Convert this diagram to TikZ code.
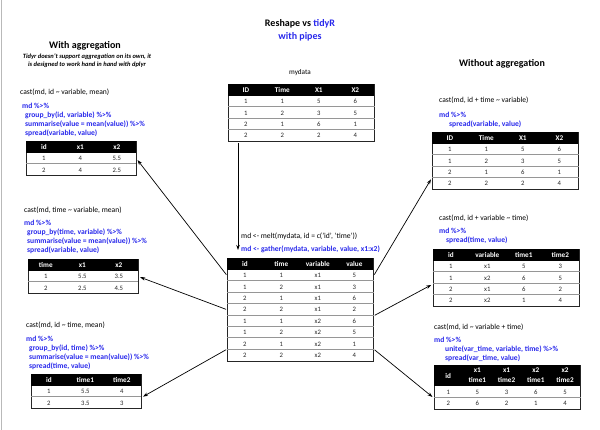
\documentclass[tikz,border=0pt]{standalone}
\usepackage{fontspec}
\setmainfont{Carlito}
\usepackage{tikz}
\usetikzlibrary{matrix,arrows.meta,positioning}

\definecolor{pipeblue}{RGB}{40,40,235}
\definecolor{rulegray}{RGB}{150,150,150}

% grey rules between the body rows of a table
\newcommand{\tablerules}[3]{%
  \foreach \r in {3,...,#2}
    \draw[rowrule] (#1-\r-1.north west) -- (#1-\r-#3.north east);}
% two-line header cell
\newcommand{\twolines}[2]{\begin{tabular}{@{}c@{}}#1\\#2\end{tabular}}

\tikzset{
  datatable/.style={matrix of nodes, draw=black!85, line width=0.8pt, inner sep=0pt,
    anchor=north west,
    nodes={anchor=center, inner sep=0pt, minimum width=#1, minimum height=11.4pt,
      align=center, font=\fontsize{6.7}{7}\selectfont, text=black!85},
    row 1/.style={nodes={fill=black, text=white, font=\fontsize{7.2}{10}\selectfont\bfseries}}},
  datatable/.default=36.5pt,
  rowrule/.style={draw=rulegray, line width=0.9pt},
  code/.style={anchor=north west, inner sep=0pt, align=left, font=\fontsize{7.6}{9.3}\selectfont},
  pipe/.style={code, text=pipeblue, font=\fontsize{7.6}{9.3}\selectfont\bfseries},
  heading/.style={font=\fontsize{10}{13}\selectfont\bfseries},
  link/.style={-{Stealth[length=5pt,width=3.5pt]}, line width=0.7pt, shorten >=2pt, shorten <=1pt},
}

\begin{document}
\begin{tikzpicture}[x=1pt, y=-1pt]

  \useasboundingbox (0,0) rectangle (600,430);
  \draw[gray!55, line width=1.2pt] (1.5,0) -- (1.5,430);

  % Headings
  \node[heading, align=center] (title) at (300,30.5)
    {Reshape vs \textcolor{pipeblue}{tidyR}\\\textcolor{pipeblue}{with pipes}};
  \node[heading] (withagg) at (85,46) {With aggregation};
  \node[font=\fontsize{6.5}{8}\selectfont\bfseries\itshape, align=center] (note) at (87,61)
    {Tidyr doesn't support aggregation on its own, it\\is designed to work hand in hand with dplyr};
  \node[heading] (withoutagg) at (502,64) {Without aggregation};

  % Source data
  \node[font=\fontsize{7.2}{8}\selectfont] (mydatalabel) at (300,73) {mydata};
  \matrix[datatable] (mydata) at (228,84) {
    ID & Time & X1 & X2 \\
    1 & 1 & 5 & 6 \\
    1 & 2 & 3 & 5 \\
    2 & 1 & 6 & 1 \\
    2 & 2 & 2 & 4 \\
  };
  \tablerules{mydata}{5}{4}

  % Molten data
  \node[code] (meltcode) at (241,232.5) {md <- melt(mydata, id = c('id', 'time'))};
  \node[pipe] (gathercode) at (241,245.5) {md <- gather(mydata, variable, value, x1:x2)};
  \matrix[datatable] (md) at (227,258) {
    id & time & variable & value \\
    1 & 1 & x1 & 5 \\
    1 & 2 & x1 & 3 \\
    2 & 1 & x1 & 6 \\
    2 & 2 & x1 & 2 \\
    1 & 1 & x2 & 6 \\
    1 & 2 & x2 & 5 \\
    2 & 1 & x2 & 1 \\
    2 & 2 & x2 & 4 \\
  };
  \tablerules{md}{9}{4}

  % With aggregation
  \node[code] (castidvar) at (20,88.5) {cast(md, id \textasciitilde{} variable, mean)};
  \node[pipe] (pipeidvar) at (22,102.5) {md \%>\%\\
    \hspace*{3pt}group\_by(id, variable) \%>\%\\
    \hspace*{3pt}summarise(value = mean(value)) \%>\%\\
    \hspace*{3pt}spread(variable, value)};
  \matrix[datatable] (idvar) at (26,141) {
    id & x1 & x2 \\
    1 & 4 & 5.5 \\
    2 & 4 & 2.5 \\
  };
  \tablerules{idvar}{3}{3}

  \node[code] (casttimevar) at (24,206.5) {cast(md, time \textasciitilde{} variable, mean)};
  \node[pipe] (pipetimevar) at (24,219.5) {md \%>\%\\
    \hspace*{3pt}group\_by(time, variable) \%>\%\\
    \hspace*{3pt}summarise(value = mean(value)) \%>\%\\
    \hspace*{3pt}spread(variable, value)};
  \matrix[datatable] (timevar) at (28,259) {
    time & x1 & x2 \\
    1 & 5.5 & 3.5 \\
    2 & 2.5 & 4.5 \\
  };
  \tablerules{timevar}{3}{3}

  \node[code] (castidtime) at (26,321.5) {cast(md, id \textasciitilde{} time, mean)};
  \node[pipe] (pipeidtime) at (26,335.5) {md \%>\%\\
    \hspace*{3pt}group\_by(id, time) \%>\%\\
    \hspace*{3pt}summarise(value = mean(value)) \%>\%\\
    \hspace*{3pt}spread(time, value)};
  \matrix[datatable] (idtime) at (31,374) {
    id & time1 & time2 \\
    1 & 5.5 & 4 \\
    2 & 3.5 & 3 \\
  };
  \tablerules{idtime}{3}{3}

  % Without aggregation
  \node[code] (castidtimevar) at (439,96.5) {cast(md, id + time \textasciitilde{} variable)};
  \node[pipe] (pipeidtimevar) at (439,111.5) {md \%>\%\\
    \hspace*{10pt}spread(variable, value)};
  \matrix[datatable] (idtimevar) at (432,132) {
    ID & Time & X1 & X2 \\
    1 & 1 & 5 & 6 \\
    1 & 2 & 3 & 5 \\
    2 & 1 & 6 & 1 \\
    2 & 2 & 2 & 4 \\
  };
  \tablerules{idtimevar}{5}{4}

  \node[code] (castidvartime) at (439,214.5) {cast(md, id + variable \textasciitilde{} time)};
  \node[pipe] (pipeidvartime) at (439,227.5) {md \%>\%\\
    \hspace*{7pt}spread(time, value)};
  \matrix[datatable] (idvartime) at (433,249) {
    id & variable & time1 & time2 \\
    1 & x1 & 5 & 3 \\
    1 & x2 & 6 & 5 \\
    2 & x1 & 6 & 2 \\
    2 & x2 & 1 & 4 \\
  };
  \tablerules{idvartime}{5}{4}

  \node[code] (castidvarxtime) at (434,323.5) {cast(md, id \textasciitilde{} variable + time)};
  \node[pipe] (pipeidvarxtime) at (434,336.5) {md \%>\%\\
    \hspace*{11pt}unite(var\_time, variable, time) \%>\%\\
    \hspace*{11pt}spread(var\_time, value)};
  \matrix[datatable=29.2pt, row 1/.append style={nodes={minimum height=21pt}}] (idvarxtime) at (434,365) {
    id & \twolines{x1}{time1} & \twolines{x1}{time2} & \twolines{x2}{time1} & \twolines{x2}{time2} \\
    1 & 5 & 3 & 6 & 5 \\
    2 & 6 & 2 & 1 & 4 \\
  };
  \tablerules{idvarxtime}{3}{5}

  % Connect the tables
  \draw[link, shorten >=8pt] ([xshift=10pt]mydata.south west) -- ([xshift=11pt]md.north west);
  \draw[link] (md-2-1.west) -- (idvar-2-3.east);
  \draw[link] (md-5-1.west) -- (timevar-2-3.east);
  \draw[link] (md-9-1.north west) -- (idtime-2-3.south east);
  \draw[link] (md-2-4.east) -- (idtimevar-5-1.north west);
  \draw[link] (md-5-4.south east) -- (idvartime-3-1.south west);
  \draw[link] (md-9-4.north east) -- (idvarxtime-2-1.south west);

\end{tikzpicture}
\end{document}
